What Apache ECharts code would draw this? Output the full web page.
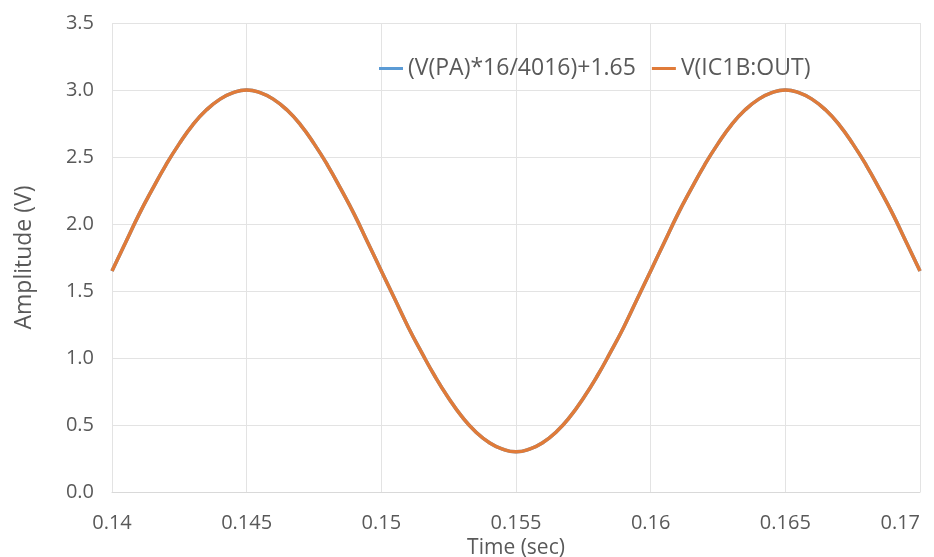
<!DOCTYPE html>
<html><head><meta charset="utf-8">
<script src="https://cdn.jsdelivr.net/npm/echarts@6/dist/echarts.min.js"></script>
<style>html,body{margin:0;padding:0;background:#fff}#c{width:934px;height:557px}</style>
</head><body><div id="c"></div>
<script>
var timeValues = [0.1400,0.1405,0.1410,0.1415,0.1420,0.1425,0.1430,0.1435,0.1440,0.1445,
                  0.1450,0.1455,0.1460,0.1465,0.1470,0.1475,0.1480,0.1485,0.1490,0.1495,
                  0.1500,0.1505,0.1510,0.1515,0.1520,0.1525,0.1530,0.1535,0.1540,0.1545,
                  0.1550,0.1555,0.1560,0.1565,0.1570,0.1575,0.1580,0.1585,0.1590,0.1595,
                  0.1600,0.1605,0.1610,0.1615,0.1620,0.1625,0.1630,0.1635,0.1640,0.1645,
                  0.1650,0.1655,0.1660,0.1665,0.1670,0.1675,0.1680,0.1685,0.1690,0.1695,0.1700];
var paValues = [1.65,1.86,2.07,2.26,2.44,2.60,2.74,2.85,2.93,2.98,
                3.00,2.98,2.93,2.85,2.74,2.60,2.44,2.26,2.07,1.86,
                1.65,1.44,1.23,1.04,0.86,0.70,0.56,0.45,0.37,0.32,
                0.30,0.32,0.37,0.45,0.56,0.70,0.86,1.04,1.23,1.44,
                1.65,1.86,2.07,2.26,2.44,2.60,2.74,2.85,2.93,2.98,
                3.00,2.98,2.93,2.85,2.74,2.60,2.44,2.26,2.07,1.86,1.65];
var outValues = [1.65,1.86,2.07,2.26,2.44,2.60,2.74,2.85,2.93,2.98,
                 3.00,2.98,2.93,2.85,2.74,2.60,2.44,2.26,2.07,1.86,
                 1.65,1.44,1.23,1.04,0.86,0.70,0.56,0.45,0.37,0.32,
                 0.30,0.32,0.37,0.45,0.56,0.70,0.86,1.04,1.23,1.44,
                 1.65,1.86,2.07,2.26,2.44,2.60,2.74,2.85,2.93,2.98,
                 3.00,2.98,2.93,2.85,2.74,2.60,2.44,2.26,2.07,1.86,1.65];
var seriesNames = ['(V(PA)*16/4016)+1.65','V(IC1B:OUT)'];
function pairs(xs, ys){ return xs.map(function(x,i){return [x, ys[i]];}); }
var font = '"Open Sans", sans-serif';
var chart = echarts.init(document.getElementById('c'));
chart.setOption({
  animation:false,
  textStyle:{fontFamily:font},
  legend:{
    data:seriesNames, left:374, top:52, itemWidth:24, itemHeight:3, itemGap:16,
    icon:'rect',
    textStyle:{fontSize:23, color:'#595959', fontFamily:font}
  },
  grid:{left:112, right:14, top:23, bottom:65, outerBoundsMode:'none'},
  xAxis:{
    type:'value', min:0.14, max:0.17, interval:0.005,
    name:'Time (sec)', nameLocation:'middle', nameGap:46,
    nameTextStyle:{fontSize:21, color:'#595959'},
    axisLine:{show:true, lineStyle:{color:'#d9d9d9', width:1}},
    axisTick:{show:false},
    axisLabel:{fontSize:20, color:'#595959', margin:21, alignMaxLabel:'right', formatter:function(v){return String(+v.toFixed(3));}},
    splitLine:{show:true, lineStyle:{color:'#e3e3e3'}}
  },
  yAxis:{
    type:'value', min:0, max:3.5, interval:0.5,
    name:'Amplitude (V)', nameLocation:'middle', nameGap:76, nameRotate:90,
    nameTextStyle:{fontSize:23, color:'#595959'},
    axisLine:{show:false}, axisTick:{show:false},
    axisLabel:{fontSize:20, color:'#595959', margin:18, formatter:function(v){return v.toFixed(1);}},
    splitLine:{show:true, lineStyle:{color:'#e3e3e3'}}
  },
  series:[
    {name:seriesNames[0], type:'line', data:pairs(timeValues, paValues), smooth:true, showSymbol:false, lineStyle:{color:'#5B9BD5', width:3.5}, itemStyle:{color:'#5B9BD5'}},
    {name:seriesNames[1], type:'line', data:pairs(timeValues, outValues), smooth:true, showSymbol:false, lineStyle:{color:'#E07B39', width:3.5}, itemStyle:{color:'#E07B39'}}
  ]
});
</script></body></html>
